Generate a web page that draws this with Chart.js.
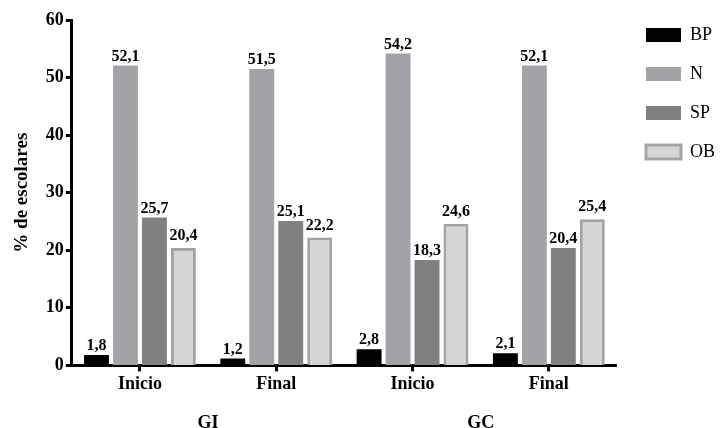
<!DOCTYPE html>
<html>
<head>
<meta charset="utf-8">
<script src="https://cdn.jsdelivr.net/npm/chart.js@4.4.0/dist/chart.umd.min.js"></script>
<style>
    body { margin: 0; background: #fff; }
    #wrap { width: 725px; height: 428px; }
</style>
</head>
<body>
<div id="wrap"><canvas id="chart"></canvas></div>
<script>
var categories = ['Inicio', 'Final', 'Inicio', 'Final'];
var groups = ['GI', 'GC'];
var bpValues = [1.8, 1.2, 2.8, 2.1];
var nValues = [52.1, 51.5, 54.2, 52.1];
var spValues = [25.7, 25.1, 18.3, 20.4];
var obValues = [20.4, 22.2, 24.6, 25.4];
var yTicks = [0, 10, 20, 30, 40, 50, 60];

var serif = '"Liberation Serif"';

// values over the bars, with a comma as decimal mark
var valueLabels = {
    id: 'valueLabels',
    afterDatasetsDraw: function(chart) {
        var ctx = chart.ctx;
        ctx.save();
        ctx.font = 'bold 16px ' + serif;
        ctx.fillStyle = '#000';
        ctx.textAlign = 'center';
        ctx.textBaseline = 'bottom';
        chart.data.datasets.forEach(function(ds, i) {
            var meta = chart.getDatasetMeta(i);
            meta.data.forEach(function(bar, j) {
                var extra = ds.borderWidth ? ds.borderWidth : 0;
                ctx.fillText(ds.data[j].toFixed(1).replace('.', ','), bar.x, bar.y - 1 - extra);
            });
        });
        ctx.restore();
    }
};

// second row of x labels: GI / GC centred under each pair
var groupLabels = {
    id: 'groupLabels',
    afterDraw: function(chart) {
        var ctx = chart.ctx;
        var x = chart.scales.x;
        ctx.save();
        ctx.font = 'bold 18px ' + serif;
        ctx.fillStyle = '#000';
        ctx.textAlign = 'center';
        ctx.textBaseline = 'middle';
        groups.forEach(function(g, k) {
            var cx = (x.getPixelForValue(k * 2) + x.getPixelForValue(k * 2 + 1)) / 2;
            ctx.fillText(g, cx, x.bottom + 26);
        });
        ctx.restore();
    }
};

// nudge the legend block up and right a bit
var legendShift = {
    id: 'legendShift',
    afterLayout: function(chart) {
        var lg = chart.legend;
        lg.top -= 15;
        lg.bottom -= 15;
        lg.left += 8;
        lg.right += 8;
    }
};

function draw() {
    new Chart(document.getElementById('chart'), {
        type: 'bar',
        data: {
            labels: categories,
            datasets: [{
                label: 'BP',
                data: bpValues,
                backgroundColor: '#000000',
                borderWidth: 0
            }, {
                label: 'N',
                data: nValues,
                backgroundColor: '#a3a3a7',
                borderWidth: 0
            }, {
                label: 'SP',
                data: spValues,
                backgroundColor: '#808080',
                borderWidth: 0
            }, {
                label: 'OB',
                data: obValues,
                backgroundColor: '#d6d6d6',
                borderColor: '#a3a3a7',
                borderWidth: 3
            }]
        },
        options: {
            responsive: true,
            maintainAspectRatio: false,
            animation: false,
            categoryPercentage: 0.85,
            barPercentage: 0.86,
            layout: { padding: { top: 20, bottom: 31, left: 11, right: 8 } },
            plugins: {
                tooltip: { enabled: false },
                legend: {
                    position: 'right',
                    align: 'start',
                    labels: {
                        boxWidth: 35,
                        boxHeight: 14,
                        padding: 21,
                        color: '#000',
                        font: { family: serif, size: 18 }
                    }
                }
            },
            scales: {
                x: {
                    grid: {
                        drawOnChartArea: false,
                        offset: false,
                        tickLength: 6,
                        tickWidth: 3,
                        tickColor: '#000'
                    },
                    border: { color: '#000', width: 3 },
                    ticks: {
                        color: '#000',
                        padding: 2,
                        font: { family: serif, size: 18, weight: 'bold' }
                    }
                },
                y: {
                    min: 0,
                    max: 60,
                    afterBuildTicks: function(axis) {
                        axis.ticks = yTicks.map(function(v) { return { value: v }; });
                    },
                    grid: {
                        drawOnChartArea: false,
                        tickLength: 6,
                        tickWidth: 3,
                        tickColor: '#000'
                    },
                    border: { color: '#000', width: 3 },
                    ticks: {
                        color: '#000',
                        padding: 2,
                        font: { family: serif, size: 18, weight: 'bold' }
                    },
                    title: {
                        display: true,
                        text: '% de escolares',
                        color: '#000',
                        padding: { top: 0, bottom: 10 },
                        font: { family: serif, size: 19, weight: 'bold' }
                    }
                }
            }
        },
        plugins: [valueLabels, groupLabels, legendShift]
    });
}

Promise.all([
    document.fonts.load('bold 18px "Liberation Serif"'),
    document.fonts.load('18px "Liberation Serif"')
]).then(draw, draw);
</script>
</body>
</html>
